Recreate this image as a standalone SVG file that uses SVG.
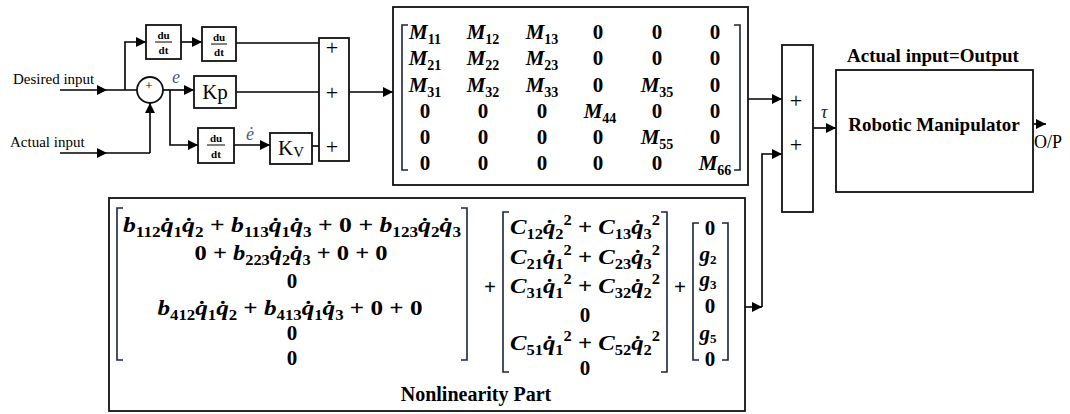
<svg xmlns="http://www.w3.org/2000/svg" width="1070" height="414" viewBox="0 0 1070 414">
<defs>
<style>
.ln{stroke:#000;stroke-width:1.6;fill:none}
.bx{stroke:#111;stroke-width:1.8;fill:#fff}
.bk{stroke:#1c2340;stroke-width:1.6;fill:none}
.lbl{font-family:"Liberation Serif",serif;font-size:15px;fill:#000}
.frac{font-family:"Liberation Serif",serif;font-size:11px;font-weight:bold;fill:#000;text-anchor:middle}
.k{font-family:"Liberation Serif",serif;font-size:21px;fill:#000;text-anchor:middle}
.pl{font-family:"Liberation Serif",serif;font-size:22px;fill:#000;text-anchor:middle}
.ttl{font-family:"Liberation Serif",serif;font-size:19px;font-weight:bold;fill:#000;text-anchor:middle}
.mx{font-family:"Liberation Serif",serif;font-size:21px;font-weight:bold;fill:#000;text-anchor:middle}
.i{font-style:italic}
.sb{font-size:14px;font-style:normal}
.ev{font-family:"Liberation Serif",serif;font-size:18px;font-style:italic;fill:#4a5a8a}
</style>
<marker id="ar" viewBox="0 0 10 10" refX="10" refY="5" markerWidth="10" markerHeight="10" markerUnits="userSpaceOnUse" orient="auto"><path d="M0,0 L10,5 L0,10 z" fill="#000"/></marker>
</defs>
<rect width="1070" height="414" fill="#fff"/>

<g id="connectors">
<line class="ln" x1="60" y1="90" x2="137" y2="90"/>
<path d="M97,85 L107,90 L97,95 z" fill="#000"/>
<polyline class="ln" points="125,90 125,42 146,42" marker-end="url(#ar)"/>
<line class="ln" x1="60" y1="153" x2="150" y2="153"/>
<path d="M97,148 L107,153 L97,158 z" fill="#000"/>
<line class="ln" x1="150" y1="153" x2="150" y2="103" marker-end="url(#ar)"/>
<line class="ln" x1="163" y1="90" x2="194" y2="90" marker-end="url(#ar)"/>
<polyline class="ln" points="170,90 170,145 198,145" marker-end="url(#ar)"/>
<line class="ln" x1="181" y1="42" x2="202" y2="42" marker-end="url(#ar)"/>
<line class="ln" x1="236" y1="43" x2="319" y2="43"/>
<line class="ln" x1="236" y1="92" x2="319" y2="92"/>
<line class="ln" x1="234" y1="145" x2="270" y2="145" marker-end="url(#ar)"/>
<line class="ln" x1="312" y1="146" x2="319" y2="146"/>
<line class="ln" x1="349" y1="92" x2="393" y2="92" marker-end="url(#ar)"/>
<line class="ln" x1="748" y1="99" x2="782" y2="99" marker-end="url(#ar)"/>
<line class="ln" x1="745" y1="307" x2="762" y2="307" marker-end="url(#ar)"/>
<polyline class="ln" points="762,307 762,154 782,154" marker-end="url(#ar)"/>
<line class="ln" x1="813" y1="128" x2="836" y2="128" marker-end="url(#ar)"/>
<line class="ln" x1="1033" y1="124" x2="1046" y2="124" marker-end="url(#ar)"/>
</g>

<g id="labels">
<text class="lbl" x="13" y="84">Desired input</text>
<text class="lbl" x="10" y="147">Actual input</text>
<text class="ev" x="172" y="83">e</text>
<text class="ev" x="246" y="140">ė</text>
<text class="ev" x="821" y="118" style="fill:#222">τ</text>
<text class="lbl" x="1034" y="148" style="font-size:18px">O/P</text>
</g>

<g id="sum1">
<circle cx="150" cy="90" r="13" class="bx"/>
<text x="149" y="90" font-family="Liberation Serif, serif" font-size="13" text-anchor="middle">+</text>
<text x="151" y="105" font-family="Liberation Serif, serif" font-size="10" text-anchor="middle">-</text>
</g>

<g id="ddt1">
<rect class="bx" x="146" y="25" width="35" height="34"/>
<text class="frac" x="163.5" y="39">du</text>
<line x1="155" y1="42" x2="172" y2="42" stroke="#000" stroke-width="1"/>
<text class="frac" x="163.5" y="54">dt</text>
</g>
<g id="ddt2">
<rect class="bx" x="202" y="27" width="34" height="34"/>
<text class="frac" x="219" y="41">du</text>
<line x1="211" y1="44" x2="227" y2="44" stroke="#000" stroke-width="1"/>
<text class="frac" x="219" y="56">dt</text>
</g>
<g id="kp">
<rect class="bx" x="194" y="76" width="42" height="32"/>
<text class="k" x="215" y="99">Kp</text>
</g>
<g id="ddt3">
<rect class="bx" x="198" y="128" width="36" height="35"/>
<text class="frac" x="216" y="142">du</text>
<line x1="207" y1="145" x2="225" y2="145" stroke="#000" stroke-width="1"/>
<text class="frac" x="216" y="158">dt</text>
</g>
<g id="kv">
<rect class="bx" x="270" y="133" width="42" height="31"/>
<text class="k" x="291" y="155">K<tspan style="font-size:15px" dy="2">V</tspan></text>
</g>
<g id="sum2">
<rect class="bx" x="319" y="38" width="30" height="123"/>
<text class="pl" x="332" y="55">+</text>
<text class="pl" x="332" y="100">+</text>
<text class="pl" x="332" y="154">+</text>
</g>

<g id="mass-matrix">
<rect class="bx" x="393" y="7" width="355" height="178"/>
<path class="bk" d="M408,25 H402 V170 H408"/>
<path class="bk" d="M734,25 H740 V170 H734"/>
<g class="mx">
<text x="425" y="39"><tspan class="i">M</tspan><tspan class="sb" dy="5">11</tspan></text>
<text x="483" y="39"><tspan class="i">M</tspan><tspan class="sb" dy="5">12</tspan></text>
<text x="542" y="39"><tspan class="i">M</tspan><tspan class="sb" dy="5">13</tspan></text>
<text x="598" y="39">0</text><text x="657" y="39">0</text><text x="715" y="39">0</text>
<text x="425" y="65"><tspan class="i">M</tspan><tspan class="sb" dy="5">21</tspan></text>
<text x="483" y="65"><tspan class="i">M</tspan><tspan class="sb" dy="5">22</tspan></text>
<text x="542" y="65"><tspan class="i">M</tspan><tspan class="sb" dy="5">23</tspan></text>
<text x="598" y="65">0</text><text x="657" y="65">0</text><text x="715" y="65">0</text>
<text x="425" y="92"><tspan class="i">M</tspan><tspan class="sb" dy="5">31</tspan></text>
<text x="483" y="92"><tspan class="i">M</tspan><tspan class="sb" dy="5">32</tspan></text>
<text x="542" y="92"><tspan class="i">M</tspan><tspan class="sb" dy="5">33</tspan></text>
<text x="598" y="92">0</text>
<text x="657" y="92"><tspan class="i">M</tspan><tspan class="sb" dy="5">35</tspan></text>
<text x="715" y="92">0</text>
<text x="425" y="118">0</text><text x="483" y="118">0</text><text x="542" y="118">0</text>
<text x="600" y="118"><tspan class="i">M</tspan><tspan class="sb" dy="5">44</tspan></text>
<text x="657" y="118">0</text><text x="715" y="118">0</text>
<text x="425" y="144">0</text><text x="483" y="144">0</text><text x="542" y="144">0</text><text x="598" y="144">0</text>
<text x="657" y="144"><tspan class="i">M</tspan><tspan class="sb" dy="5">55</tspan></text>
<text x="715" y="144">0</text>
<text x="425" y="170">0</text><text x="483" y="170">0</text><text x="542" y="170">0</text><text x="598" y="170">0</text><text x="657" y="170">0</text>
<text x="715" y="170"><tspan class="i">M</tspan><tspan class="sb" dy="5">66</tspan></text>
</g>
</g>

<g id="sum3">
<rect class="bx" x="782" y="45" width="31" height="167"/>
<text class="pl" x="796" y="108">+</text>
<text class="pl" x="796" y="152">+</text>
</g>

<g id="robot">
<text class="ttl" x="933" y="62">Actual input=Output</text>
<rect class="bx" x="836" y="70" width="197" height="122"/>
<text class="ttl" x="934" y="131">Robotic Manipulator</text>
</g>

<g id="nonlinearity">
<rect class="bx" x="109" y="198" width="636" height="213"/>
<path class="bk" d="M123,208 H117 V360 H123"/>
<path class="bk" d="M461,208 H467 V360 H461"/>
<g class="mx">
<text x="292" y="232" textLength="338" lengthAdjust="spacingAndGlyphs"><tspan class="i">b</tspan><tspan class="sb" dy="5">112</tspan><tspan class="i" dy="-5">q̇</tspan><tspan class="sb" dy="5">1</tspan><tspan class="i" dy="-5">q̇</tspan><tspan class="sb" dy="5">2</tspan><tspan dy="-5"> + </tspan><tspan class="i">b</tspan><tspan class="sb" dy="5">113</tspan><tspan class="i" dy="-5">q̇</tspan><tspan class="sb" dy="5">1</tspan><tspan class="i" dy="-5">q̇</tspan><tspan class="sb" dy="5">3</tspan><tspan dy="-5"> + 0 + </tspan><tspan class="i">b</tspan><tspan class="sb" dy="5">123</tspan><tspan class="i" dy="-5">q̇</tspan><tspan class="sb" dy="5">2</tspan><tspan class="i" dy="-5">q̇</tspan><tspan class="sb" dy="5">3</tspan></text>
<text x="291" y="260" textLength="193" lengthAdjust="spacingAndGlyphs">0 + <tspan class="i">b</tspan><tspan class="sb" dy="5">223</tspan><tspan class="i" dy="-5">q̇</tspan><tspan class="sb" dy="5">2</tspan><tspan class="i" dy="-5">q̇</tspan><tspan class="sb" dy="5">3</tspan><tspan dy="-5"> + 0 + 0</tspan></text>
<text x="292" y="288">0</text>
<text x="290" y="315" textLength="265" lengthAdjust="spacingAndGlyphs"><tspan class="i">b</tspan><tspan class="sb" dy="5">412</tspan><tspan class="i" dy="-5">q̇</tspan><tspan class="sb" dy="5">1</tspan><tspan class="i" dy="-5">q̇</tspan><tspan class="sb" dy="5">2</tspan><tspan dy="-5"> + </tspan><tspan class="i">b</tspan><tspan class="sb" dy="5">413</tspan><tspan class="i" dy="-5">q̇</tspan><tspan class="sb" dy="5">1</tspan><tspan class="i" dy="-5">q̇</tspan><tspan class="sb" dy="5">3</tspan><tspan dy="-5"> + 0 + 0</tspan></text>
<text x="292" y="340">0</text>
<text x="292" y="365">0</text>
<text x="490" y="294">+</text>
</g>
<path class="bk" d="M509,212 H503 V372 H509"/>
<path class="bk" d="M661,212 H667 V372 H661"/>
<g class="mx">
<text x="585" y="234" textLength="150" lengthAdjust="spacingAndGlyphs"><tspan class="i">C</tspan><tspan class="sb" dy="5">12</tspan><tspan class="i" dy="-5">q̇</tspan><tspan class="sb" dy="5">2</tspan><tspan class="sb" dy="-14">2</tspan><tspan dy="9"> + </tspan><tspan class="i">C</tspan><tspan class="sb" dy="5">13</tspan><tspan class="i" dy="-5">q̇</tspan><tspan class="sb" dy="5">3</tspan><tspan class="sb" dy="-14">2</tspan></text>
<text x="585" y="264" textLength="150" lengthAdjust="spacingAndGlyphs"><tspan class="i">C</tspan><tspan class="sb" dy="5">21</tspan><tspan class="i" dy="-5">q̇</tspan><tspan class="sb" dy="5">1</tspan><tspan class="sb" dy="-14">2</tspan><tspan dy="9"> + </tspan><tspan class="i">C</tspan><tspan class="sb" dy="5">23</tspan><tspan class="i" dy="-5">q̇</tspan><tspan class="sb" dy="5">3</tspan><tspan class="sb" dy="-14">2</tspan></text>
<text x="585" y="293" textLength="150" lengthAdjust="spacingAndGlyphs"><tspan class="i">C</tspan><tspan class="sb" dy="5">31</tspan><tspan class="i" dy="-5">q̇</tspan><tspan class="sb" dy="5">1</tspan><tspan class="sb" dy="-14">2</tspan><tspan dy="9"> + </tspan><tspan class="i">C</tspan><tspan class="sb" dy="5">32</tspan><tspan class="i" dy="-5">q̇</tspan><tspan class="sb" dy="5">2</tspan><tspan class="sb" dy="-14">2</tspan></text>
<text x="585" y="322">0</text>
<text x="585" y="350" textLength="150" lengthAdjust="spacingAndGlyphs"><tspan class="i">C</tspan><tspan class="sb" dy="5">51</tspan><tspan class="i" dy="-5">q̇</tspan><tspan class="sb" dy="5">1</tspan><tspan class="sb" dy="-14">2</tspan><tspan dy="9"> + </tspan><tspan class="i">C</tspan><tspan class="sb" dy="5">52</tspan><tspan class="i" dy="-5">q̇</tspan><tspan class="sb" dy="5">2</tspan><tspan class="sb" dy="-14">2</tspan></text>
<text x="585" y="375">0</text>
<text x="680" y="294">+</text>
</g>
<path class="bk" d="M699,223 H693 V360 H699"/>
<path class="bk" d="M722,223 H728 V360 H722"/>
<g class="mx">
<text x="710" y="235">0</text>
<text x="708" y="261"><tspan class="i">g</tspan><tspan class="sb" dy="3" style="font-size:13px">2</tspan></text>
<text x="708" y="286"><tspan class="i">g</tspan><tspan class="sb" dy="3" style="font-size:13px">3</tspan></text>
<text x="710" y="313">0</text>
<text x="708" y="340"><tspan class="i">g</tspan><tspan class="sb" dy="3" style="font-size:13px">5</tspan></text>
<text x="710" y="366">0</text>
</g>
<text class="ttl" x="476" y="401" style="font-size:20px">Nonlinearity Part</text>
</g>
</svg>
